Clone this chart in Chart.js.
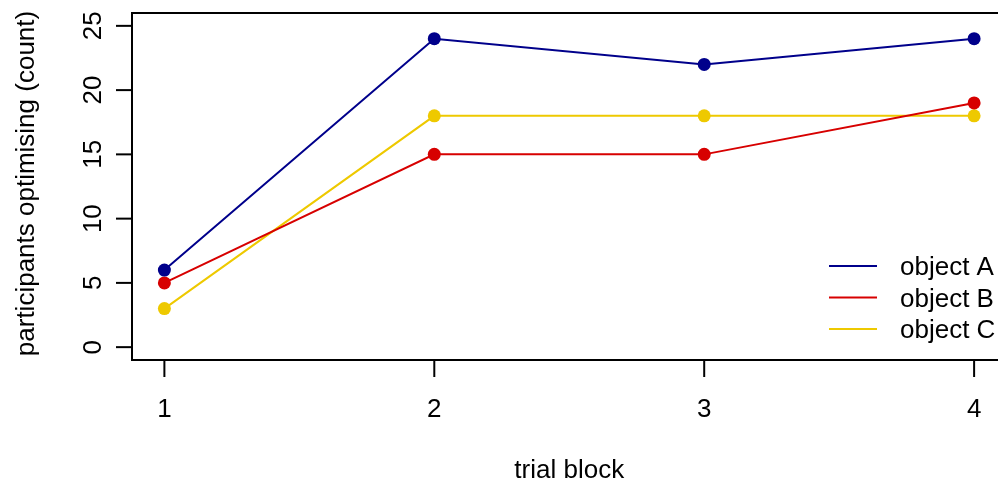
<!DOCTYPE html>
<html>
<head>
<meta charset="utf-8">
<script src="https://cdn.jsdelivr.net/npm/chart.js@4"></script>
<style>
  html, body { margin: 0; padding: 0; background: #fff; overflow: hidden; width: 998px; height: 481px; }
  canvas { display: block; }
</style>
</head>
<body>
<canvas id="c" width="1013" height="481" style="width:1013px;height:481px"></canvas>
<script>
const categories = [1, 2, 3, 4];
const objectA = [6, 24, 22, 24];
const objectB = [5, 15, 15, 19];
const objectC = [3, 18, 18, 18];
const seriesNames = ['object A', 'object B', 'object C'];
const seriesColors = ['#00008B', '#D70000', '#EEC900'];
const yTicks = [0, 5, 10, 15, 20, 25];
const xTicks = [1, 2, 3, 4];
const xTitle = 'trial block';
const yTitle = 'participants optimising (count)';

const FONT = '26px "Liberation Sans", Arial, sans-serif';

function toPts(vals) { return categories.map((c, i) => ({ x: c, y: vals[i] })); }

const rAxes = {
  id: 'rAxes',
  afterDraw(chart) {
    const ctx = chart.ctx;
    const ca = chart.chartArea;
    const xs = chart.scales.x, ys = chart.scales.y;
    ctx.save();
    ctx.strokeStyle = '#000';
    ctx.fillStyle = '#000';
    ctx.lineWidth = 2;
    // box
    ctx.strokeRect(ca.left, ca.top, ca.right - ca.left, ca.bottom - ca.top);
    // y ticks
    ctx.font = FONT;
    yTicks.forEach(v => {
      const py = ys.getPixelForValue(v);
      ctx.beginPath();
      ctx.moveTo(ca.left, py);
      ctx.lineTo(ca.left - 16, py);
      ctx.stroke();
      ctx.save();
      ctx.translate(101, py);
      ctx.rotate(-Math.PI / 2);
      ctx.textAlign = 'center';
      ctx.textBaseline = 'alphabetic';
      ctx.fillText(String(v), 0, 0);
      ctx.restore();
    });
    // x ticks
    xTicks.forEach(v => {
      const px = xs.getPixelForValue(v);
      ctx.beginPath();
      ctx.moveTo(px, ca.bottom);
      ctx.lineTo(px, ca.bottom + 17);
      ctx.stroke();
      ctx.textAlign = 'center';
      ctx.textBaseline = 'alphabetic';
      ctx.fillText(String(v), px, 417);
    });
    // titles
    ctx.textAlign = 'center';
    ctx.textBaseline = 'alphabetic';
    ctx.fillText(xTitle, (ca.left + ca.right) / 2, 478);
    ctx.save();
    ctx.translate(34, (ca.top + ca.bottom) / 2 - 3);
    ctx.rotate(-Math.PI / 2);
    ctx.fillText(yTitle, 0, 0);
    ctx.restore();
    // legend
    const ly0 = 266, lstep = 31.5;
    seriesNames.forEach((n, i) => {
      const y = ly0 + i * lstep;
      ctx.strokeStyle = seriesColors[i];
      ctx.lineWidth = 2;
      ctx.beginPath();
      ctx.moveTo(829, y);
      ctx.lineTo(877, y);
      ctx.stroke();
      ctx.fillStyle = '#000';
      ctx.textAlign = 'left';
      ctx.fillText(n, 900, y + 9);
    });
    ctx.restore();
  }
};

const seriesVals = [objectA, objectB, objectC];
new Chart(document.getElementById('c'), {
  type: 'line',
  data: {
    datasets: seriesVals.map((vals, i) => ({
      label: seriesNames[i],
      data: toPts(vals),
      borderColor: seriesColors[i],
      backgroundColor: seriesColors[i],
      pointBackgroundColor: seriesColors[i],
      pointBorderWidth: 0,
      pointRadius: 6.5,
      borderWidth: 2,
      tension: 0,
      fill: false
    }))
  },
  options: {
    responsive: false,
    animation: false,
    devicePixelRatio: 1,
    layout: { padding: { left: 132, right: 4, top: 13, bottom: 121 } },
    plugins: { legend: { display: false }, tooltip: { enabled: false } },
    scales: {
      x: { type: 'linear', min: 0.88, max: 4.12, display: false },
      y: { type: 'linear', min: -1, max: 26, display: false }
    }
  },
  plugins: [rAxes]
});
</script>
</body>
</html>
